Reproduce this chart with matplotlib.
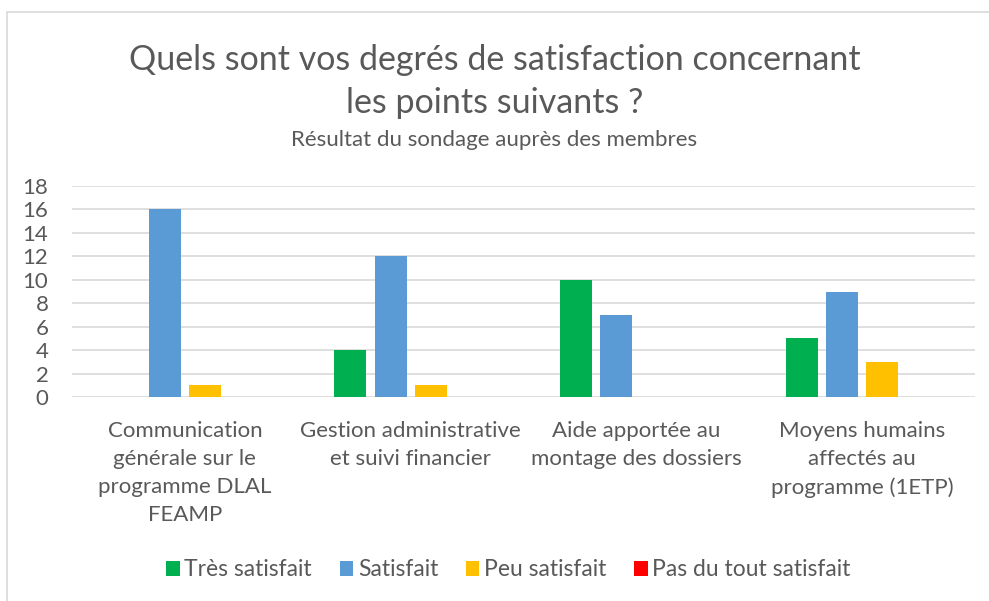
import matplotlib.pyplot as plt
import numpy as np
from matplotlib.patches import Rectangle

plt.rcParams["font.family"] = ["Lato", "DejaVu Sans"]

categories = [
    "Communication\ngénérale sur le\nprogramme DLAL\nFEAMP",
    "Gestion administrative\net suivi financier",
    "Aide apportée au\nmontage des dossiers",
    "Moyens humains\naffectés au\nprogramme (1ETP)",
]
series_names = ["Très satisfait", "Satisfait", "Peu satisfait", "Pas du tout satisfait"]
tres_satisfait = [0, 4, 10, 5]
satisfait = [16, 12, 7, 9]
peu_satisfait = [1, 1, 0, 3]
pas_du_tout = [0, 0, 0, 0]
colors = ["#00B050", "#5B9BD5", "#FFC000", "#FF0000"]
text_color = "#595959"

fig = plt.figure(figsize=(9.89, 6.01), dpi=100)
ax = fig.add_axes([72 / 989, 1 - 397 / 601, 903 / 989, 211 / 601])

# light chart border (only left/top visible in the crop)
fig.patches.append(Rectangle((7 / 989, -0.1), 1.2, (601 - 12) / 601 + 0.1,
                             transform=fig.transFigure, fill=False,
                             edgecolor="#D9D9D9", linewidth=1.2))

x = np.arange(len(categories))
width = 0.142
step = 0.178
all_series = [tres_satisfait, satisfait, peu_satisfait, pas_du_tout]
for i, (name, vals) in enumerate(zip(series_names, all_series)):
    ax.bar(x + (i - 1.5) * step, vals, width, color=colors[i], label=name, zorder=3)

ax.set_xlim(-0.5, len(categories) - 0.5)
ax.set_ylim(0, 18)
ax.set_yticks(range(0, 19, 2))
ax.grid(axis="y", color="#D9D9D9", linewidth=1.2, zorder=0)
for s in ax.spines.values():
    s.set_visible(False)
ax.tick_params(axis="y", length=0, labelsize=16, labelcolor=text_color, pad=17)
ax.tick_params(axis="x", length=0, labelsize=16, labelcolor=text_color, pad=17)
ax.set_xticks(x)
ax.set_xticklabels(categories, va="top", linespacing=1.5)

fig.text(0.5, 1 - 60 / 601, "Quels sont vos degrés de satisfaction concernant",
         ha="center", va="center", fontsize=24.5, color=text_color)
fig.text(0.5, 1 - 103 / 601, "les points suivants ?",
         ha="center", va="center", fontsize=24.5, color=text_color)
fig.text(0.5, 1 - 140 / 601, "Résultat du sondage auprès des membres",
         ha="center", va="center", fontsize=16, color=text_color)

ax.legend(loc="center", bbox_to_anchor=(0.514, 1 - 570 / 601), bbox_transform=fig.transFigure,
          ncol=4, frameon=False, fontsize=16.5, labelcolor=text_color,
          handlelength=0.6, handleheight=0.6, handletextpad=0.2, columnspacing=1.2)

fig.savefig("out.png", dpi=100)
